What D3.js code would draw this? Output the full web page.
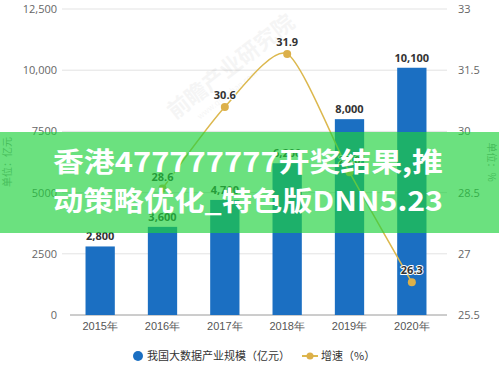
<!DOCTYPE html>
<html><head><meta charset="utf-8">
<script src="https://cdn.jsdelivr.net/npm/d3@7"></script>
<style>html,body{margin:0;padding:0;background:#fff;}svg{display:block;font-family:"Noto Sans CJK SC","Noto Sans",sans-serif;}</style>
</head><body>
<svg id="c" width="499" height="367"></svg>
<script>
const years = ["2015年","2016年","2017年","2018年","2019年","2020年"];
const scaleValues = [2800, 3600, 4700, 6200, 8000, 10100];
const growthYears = ["2016年","2017年","2018年","2019年","2020年"];
const growthValues = [28.6, 30.6, 31.9, 29.0, 26.3];
const leftTicks = [0, 2500, 5000, 7500, 10000, 12500];
const rightTicks = [25.5, 27, 28.5, 30, 31.5, 33];
const legendLabels = ["我国大数据产业规模（亿元）", "增速（%）"];
const axisTitles = ["单位：亿元", "单位：%"];
const bannerLines = ["香港477777777开奖结果,推", "动策略优化_特色版DNN5.23"];

const svg = d3.select("#c");
const x = d3.scaleBand().domain(years).range([69, 443]).paddingInner(0.53).paddingOuter(0.265);
const yL = d3.scaleLinear().domain([0, 12500]).range([315, 9]);
const yR = d3.scaleLinear().domain([25.5, 33]).range([315, 9]);
const cx = d => x(d) + x.bandwidth() / 2;

// gridlines
svg.append("g").selectAll("line").data(leftTicks.slice(1)).join("line")
  .attr("x1", 62).attr("x2", 447).attr("y1", d => yL(d)).attr("y2", d => yL(d))
  .attr("stroke", "#e3e3e3").attr("stroke-width", 1);
svg.append("line").attr("x1", 70).attr("x2", 447).attr("y1", yL(0)).attr("y2", yL(0))
  .attr("stroke", "#9a9a9a").attr("stroke-width", 1);

// watermark
const wm = svg.append("g").attr("transform", "translate(175,120) rotate(-38)").attr("opacity", 0.035);
wm.append("text").attr("font-size", 22).attr("font-weight", "bold").attr("fill", "#000").text("前瞻产业研究院");
wm.append("text").attr("y", 15).attr("x", 20).attr("font-size", 8).attr("fill", "#000").text("www.qianzhan.com");

// left axis
const axL = d3.axisLeft(yL).tickValues(leftTicks).tickSize(0).tickPadding(0)
  .tickFormat(d => d >= 10000 ? d3.format(",")(d) : String(d));
svg.append("g").attr("transform", "translate(57,0)").call(axL)
  .call(g => g.select(".domain").remove())
  .selectAll("text").attr("font-size", 11).attr("fill", "#666").attr("font-family", "'Open Sans','Noto Sans',sans-serif");
// right axis
const axR = d3.axisRight(yR).tickValues(rightTicks).tickSize(0).tickPadding(0).tickFormat(d => String(d));
svg.append("g").attr("transform", "translate(458,0)").call(axR)
  .call(g => g.select(".domain").remove())
  .selectAll("text").attr("font-size", 11).attr("fill", "#666").attr("font-family", "'Open Sans','Noto Sans',sans-serif");
// bottom axis
const axB = d3.axisBottom(x).tickSize(0).tickPadding(0);
svg.append("g").attr("transform", "translate(0,322)").call(axB)
  .call(g => g.select(".domain").remove())
  .selectAll("text").attr("font-size", 11).attr("fill", "#555").attr("dy", "0.71em");

// axis titles
svg.append("text").attr("transform", "translate(11,162) rotate(-90)").attr("text-anchor", "middle")
  .attr("font-size", 10).attr("fill", "#999").text(axisTitles[0]);
svg.append("text").attr("transform", "translate(488,162) rotate(90)").attr("text-anchor", "middle")
  .attr("font-size", 10).attr("fill", "#999").text(axisTitles[1]);

// bars
svg.append("g").selectAll("rect").data(scaleValues).join("rect")
  .attr("x", (d, i) => x(years[i])).attr("width", x.bandwidth())
  .attr("y", d => yL(d)).attr("height", d => yL(0) - yL(d)).attr("fill", "#1b6fc2");
svg.append("g").selectAll("text").data(scaleValues).join("text")
  .attr("x", (d, i) => cx(years[i])).attr("y", d => yL(d) - 6)
  .attr("text-anchor", "middle").attr("font-size", 11).attr("font-weight", "bold").attr("fill", "#333")
  .attr("font-family", "'Open Sans','Noto Sans',sans-serif")
  .text(d => d3.format(",")(d));

// line
const line = d3.line().x((d, i) => cx(growthYears[i])).y(d => yR(d)).curve(d3.curveCardinal.tension(0.3));
svg.append("path").datum(growthValues).attr("d", line).attr("fill", "none")
  .attr("stroke", "#dcb84e").attr("stroke-width", 1.5);
svg.append("g").selectAll("circle").data(growthValues).join("circle")
  .attr("cx", (d, i) => cx(growthYears[i])).attr("cy", d => yR(d)).attr("r", 4).attr("fill", "#dcb04a");
svg.append("g").selectAll("text").data(growthValues).join("text")
  .attr("x", (d, i) => cx(growthYears[i])).attr("y", d => yR(d) - 8)
  .attr("text-anchor", "middle").attr("font-size", 11).attr("font-weight", "bold").attr("fill", "#333")
  .attr("stroke", "#fff").attr("stroke-width", 2).attr("paint-order", "stroke")
  .attr("font-family", "'Open Sans','Noto Sans',sans-serif")
  .text(d => d.toFixed(1));

// legend
const lg = svg.append("g");
lg.append("circle").attr("cx", 138).attr("cy", 356).attr("r", 5).attr("fill", "#1b6fc2");
lg.append("text").attr("x", 147).attr("y", 360).attr("font-size", 11).attr("fill", "#333").text(legendLabels[0]);
lg.append("line").attr("x1", 302).attr("x2", 318).attr("y1", 356).attr("y2", 356).attr("stroke", "#dcb84e").attr("stroke-width", 2);
lg.append("circle").attr("cx", 310).attr("cy", 356).attr("r", 3.5).attr("fill", "#dcb04a");
lg.append("text").attr("x", 321).attr("y", 360).attr("font-size", 11).attr("fill", "#333").text(legendLabels[1]);

// banner overlay
svg.append("rect").attr("x", 0).attr("y", 132).attr("width", 499).attr("height", 101)
  .attr("fill", "rgb(30,210,60)").attr("fill-opacity", 0.66);
svg.append("g").selectAll("text").data(bannerLines).join("text")
  .attr("x", 53).attr("y", (d, i) => 172 + i * 39)
  .attr("font-size", 27).attr("font-weight", "bold").attr("fill", "#fff")
  .attr("textLength", 390).attr("lengthAdjust", "spacingAndGlyphs")
  .text(d => d);
</script>
</body></html>
